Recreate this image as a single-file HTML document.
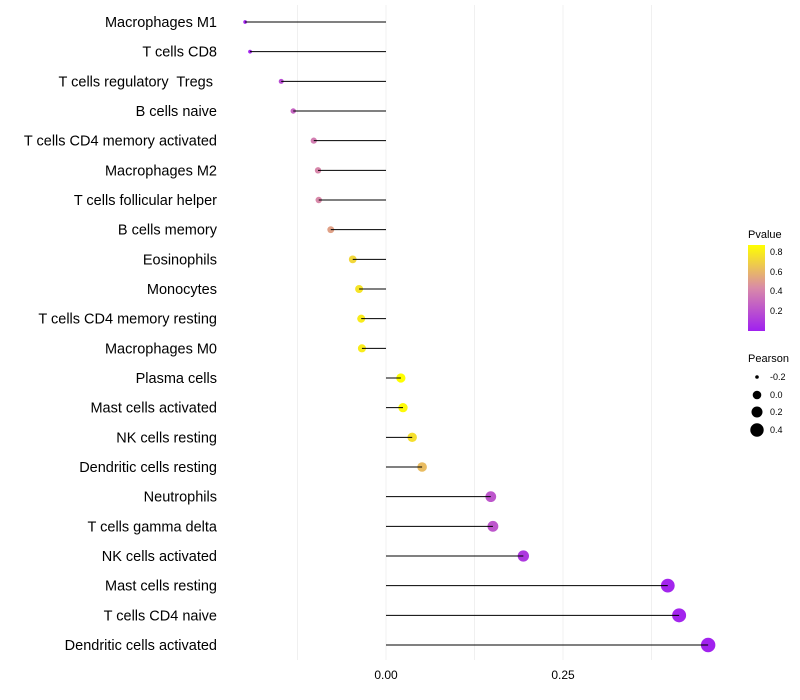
<!DOCTYPE html>
<html><head><meta charset="utf-8"><style>
body{margin:0;background:#fff;font-family:"Liberation Sans",sans-serif}
svg{display:block}
</style></head><body>
<svg id="chart" width="800" height="700" xmlns="http://www.w3.org/2000/svg">
<defs><linearGradient id="pg" x1="0" y1="1" x2="0" y2="0">
<stop offset="0" stop-color="#a020f0"/><stop offset="0.5" stop-color="#d98aa8"/><stop offset="1" stop-color="#ffff00"/></linearGradient></defs>
<g id="grid"></g><g id="marks"></g><g id="stems"></g><g id="labels"></g>
<g>
<text x="748" y="238" font-size="11" fill="#000">Pvalue</text>
<rect x="748" y="245" width="17" height="86" fill="url(#pg)"/>
<g font-size="9" fill="#000"><text x="770" y="255">0.8</text><text x="770" y="275">0.6</text><text x="770" y="294">0.4</text><text x="770" y="314">0.2</text></g>
</g>
<g>
<text x="748" y="362" font-size="11" fill="#000">Pearson</text>
<circle cx="757" cy="377" r="1.8" fill="#000"/><circle cx="757" cy="395" r="4.3" fill="#000"/>
<circle cx="757" cy="412" r="5.5" fill="#000"/><circle cx="757" cy="430" r="6.7" fill="#000"/>
<g font-size="9" fill="#000"><text x="770" y="380">-0.2</text><text x="770" y="398">0.0</text><text x="770" y="415">0.2</text><text x="770" y="433">0.4</text></g>
</g>
</svg>
<script>
const categories=["Macrophages M1","T cells CD8","T cells regulatory  Tregs ","B cells naive","T cells CD4 memory activated","Macrophages M2","T cells follicular helper","B cells memory","Eosinophils","Monocytes","T cells CD4 memory resting","Macrophages M0","Plasma cells","Mast cells activated","NK cells resting","Dendritic cells resting","Neutrophils","T cells gamma delta","NK cells activated","Mast cells resting","T cells CD4 naive","Dendritic cells activated"];
const pearson=[-0.199,-0.192,-0.148,-0.131,-0.102,-0.096,-0.095,-0.078,-0.047,-0.038,-0.035,-0.034,0.021,0.024,0.037,0.051,0.148,0.151,0.194,0.398,0.414,0.455];
const pvalues=[0.01,0.02,0.18,0.28,0.38,0.42,0.43,0.52,0.72,0.77,0.8,0.8,0.87,0.85,0.75,0.62,0.22,0.22,0.1,0.02,0.02,0.01];
const xTicks=[0,0.25];
const xTickLabels=["0.00","0.25"];
const gridVals=[-0.125,0.125,0.375];
const NS="http://www.w3.org/2000/svg";
const xs=v=>386+v*708;
const ys=i=>22+i*(645-22)/21;
function rs(v){const a=[[-0.2,1.8],[0,4.5],[0.2,5.7],[0.4,6.9],[0.5,7.5]];for(let k=0;k<a.length-1;k++){if(v<=a[k+1][0]){const t=(v-a[k][0])/(a[k+1][0]-a[k][0]);return a[k][1]+t*(a[k+1][1]-a[k][1]);}}return 7.5;}
function col(p){const t=Math.max(0,Math.min(1,p/0.87));const s=[[160,32,240],[217,138,168],[255,255,0]];let a,b,u;if(t<0.5){a=s[0];b=s[1];u=t/0.5}else{a=s[1];b=s[2];u=(t-0.5)/0.5}return `rgb(${a.map((c,i)=>Math.round(c+(b[i]-c)*u)).join(',')})`;}
function mk(tag,at,parent){const e=document.createElementNS(NS,tag);for(const k in at)e.setAttribute(k,at[k]);parent.appendChild(e);return e;}
const grid=document.getElementById('grid'),marks=document.getElementById('marks'),stems=document.getElementById('stems'),labels=document.getElementById('labels');
gridVals.concat(xTicks).forEach(v=>{const l=mk('line',{x1:xs(v),x2:xs(v),y1:5,y2:660,stroke:'#f0f0f0','stroke-width':1},grid);

});
xTicks.forEach((v,i)=>{const t=mk('text',{x:xs(v),y:679,'font-size':12,'text-anchor':'middle',fill:'#000'},labels);t.textContent=xTickLabels[i];

});
categories.forEach((c,i)=>{const y=ys(i);
const d=mk('circle',{cx:xs(pearson[i]),cy:y,r:rs(pearson[i]),fill:col(pvalues[i])},marks);


const l=mk('line',{x1:xs(0),x2:xs(pearson[i]),y1:y,y2:y,stroke:'#000','stroke-width':1},stems);


const t=mk('text',{x:217,y:y+5,'font-size':14.5,'text-anchor':'end',fill:'#000'},labels);t.textContent=c;t.setAttribute('xml:space','preserve');t.style.whiteSpace='pre';

});
</script>
</body></html>
